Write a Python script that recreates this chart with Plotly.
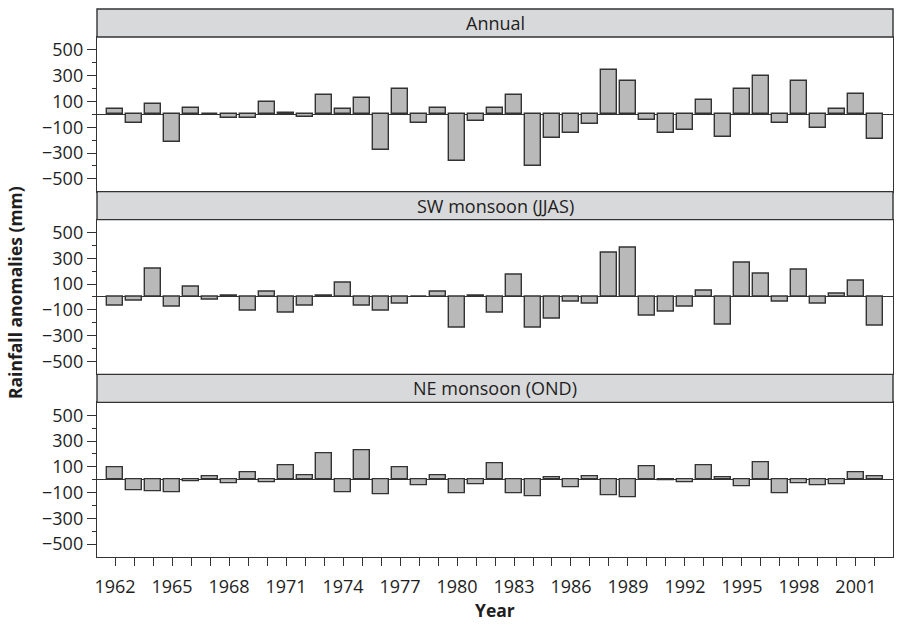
import plotly.graph_objects as go

# Rainfall anomalies (mm) by year, 1962-2002
years = list(range(1962, 2003))

annual = [40, -70, 80, -217, 49, 5, -28, -28, 93, 10, -20, 150, 41, 124, -279,
          196, -67, 52, -359, -48, 53, 152, -403, -183, -142, -75, 341, 256, -44,
          -145, -124, 114, -176, 196, 295, -65, 256, -106, 44, 160, -189]

sw_monsoon = [-69, -31, 221, -77, 79, -18, 13, -108, 38, -120, -69, 13, 108, -69,
              -108, -49, 0, 41, -241, 13, -120, 174, -238, -167, -36, -54, 346, 385,
              -146, -115, -77, 49, -218, 269, 182, -36, 210, -49, 28, 128, -226]

ne_monsoon = [93, -85, -91, -101, -15, 23, -31, 54, -18, 109, 31, 202, -96, 225,
              -117, 98, -44, 34, -104, -34, 127, -104, -130, 18, -62, 28, -124, -135,
              101, -5, -23, 109, 15, -54, 137, -106, -28, -47, -34, 60, 28]

panels = [("Annual", annual), ("SW monsoon (JJAS)", sw_monsoon), ("NE monsoon (OND)", ne_monsoon)]

major_y = [-500, -300, -100, 100, 300, 500]
minor_y = [-400, -200, 0, 200, 400]
x_labels = [str(y) if (y - 1962) % 3 == 0 else "" for y in years]

W, H = 899, 627
ML, MR, MT, MB = 97, 6, 9, 70
plot_h = H - MT - MB
strip_h = 28.0
panel_h = plot_h / 3 - strip_h

FONT = "Open Sans"
DARK = "#333333"
TEXT = "#1e1e1e"

fig = go.Figure()
shapes = []
annotations = []

def frac(px):
    return min(1.0, max(0.0, 1 - px / plot_h))

top_px = 0.0  # pixel offset from top of plotting region
for i, (name, vals) in enumerate(panels):
    strip_top = top_px
    strip_bot = strip_top + strip_h
    pan_bot = strip_bot + panel_h
    top_px = pan_bot
    d_top = frac(strip_bot)
    d_bot = frac(pan_bot)
    s_top = frac(strip_top)

    idx = "" if i == 0 else str(i + 1)
    xa = "x" + idx
    ya = "y" + idx

    fig.add_trace(go.Bar(
        x=years, y=vals, width=0.8,
        marker=dict(color="#b9b9b9", line=dict(color=DARK, width=1.4)),
        xaxis=xa, yaxis=ya, showlegend=False,
    ))

    last = i == len(panels) - 1
    fig.update_layout(**{
        "xaxis" + idx: dict(
            domain=[0, 1], anchor=ya, range=[1961.05, 2002.95],
            showline=True, linecolor=DARK, linewidth=1.4, mirror=True,
            showgrid=False, zeroline=False,
            tickmode="array", tickvals=years,
            ticktext=x_labels if last else [""] * len(years),
            ticks="outside" if last else "", ticklen=8, tickwidth=1.3, tickcolor=DARK,
            showticklabels=last, ticklabelstandoff=5,
            tickfont=dict(family=FONT, size=18, color=TEXT),
            matches=None if i == 0 else "x",
        ),
        "yaxis" + idx: dict(
            domain=[d_bot, d_top], anchor=xa, range=[-600, 600],
            showline=True, linecolor=DARK, linewidth=1.4, mirror=True,
            showgrid=False, zeroline=True, zerolinecolor=DARK, zerolinewidth=1.3,
            tickmode="array", tickvals=major_y,
            ticks="outside", ticklen=9, tickwidth=1.3, tickcolor=DARK,
            tickfont=dict(family=FONT, size=18, color=TEXT),
            minor=dict(tickmode="array", tickvals=minor_y, ticks="outside",
                       ticklen=4, tickwidth=1.2, tickcolor=DARK),
        ),
    })

    # panel header strip
    shapes.append(dict(type="rect", xref="paper", yref="paper",
                       x0=0, x1=1, y0=d_top, y1=s_top,
                       fillcolor="#d8d9da", line=dict(color=DARK, width=1.4),
                       layer="above"))
    annotations.append(dict(text=name, xref="paper", yref="paper",
                            x=0.5, y=(d_top + s_top) / 2, showarrow=False,
                            xanchor="center", yanchor="middle",
                            font=dict(family=FONT, size=18, color=TEXT)))

annotations.append(dict(text="<b>Year</b>", xref="paper", yref="paper",
                        x=0.5, y=-(610 - (H - MB)) / plot_h, showarrow=False,
                        xanchor="center", yanchor="middle",
                        font=dict(family=FONT, size=17.5, color=TEXT)))
annotations.append(dict(text="<b>Rainfall anomalies (mm)</b>", xref="paper", yref="paper",
                        x=-(ML - 15) / (W - ML - MR), y=1 - (293 - MT) / plot_h,
                        showarrow=False, textangle=-90,
                        xanchor="center", yanchor="middle",
                        font=dict(family=FONT, size=17.5, color=TEXT)))

fig.update_layout(
    width=W, height=H,
    margin=dict(l=ML, r=MR, t=MT, b=MB),
    paper_bgcolor="white", plot_bgcolor="white",
    bargap=0, shapes=shapes, annotations=annotations,
)

fig.write_html("out.html")
